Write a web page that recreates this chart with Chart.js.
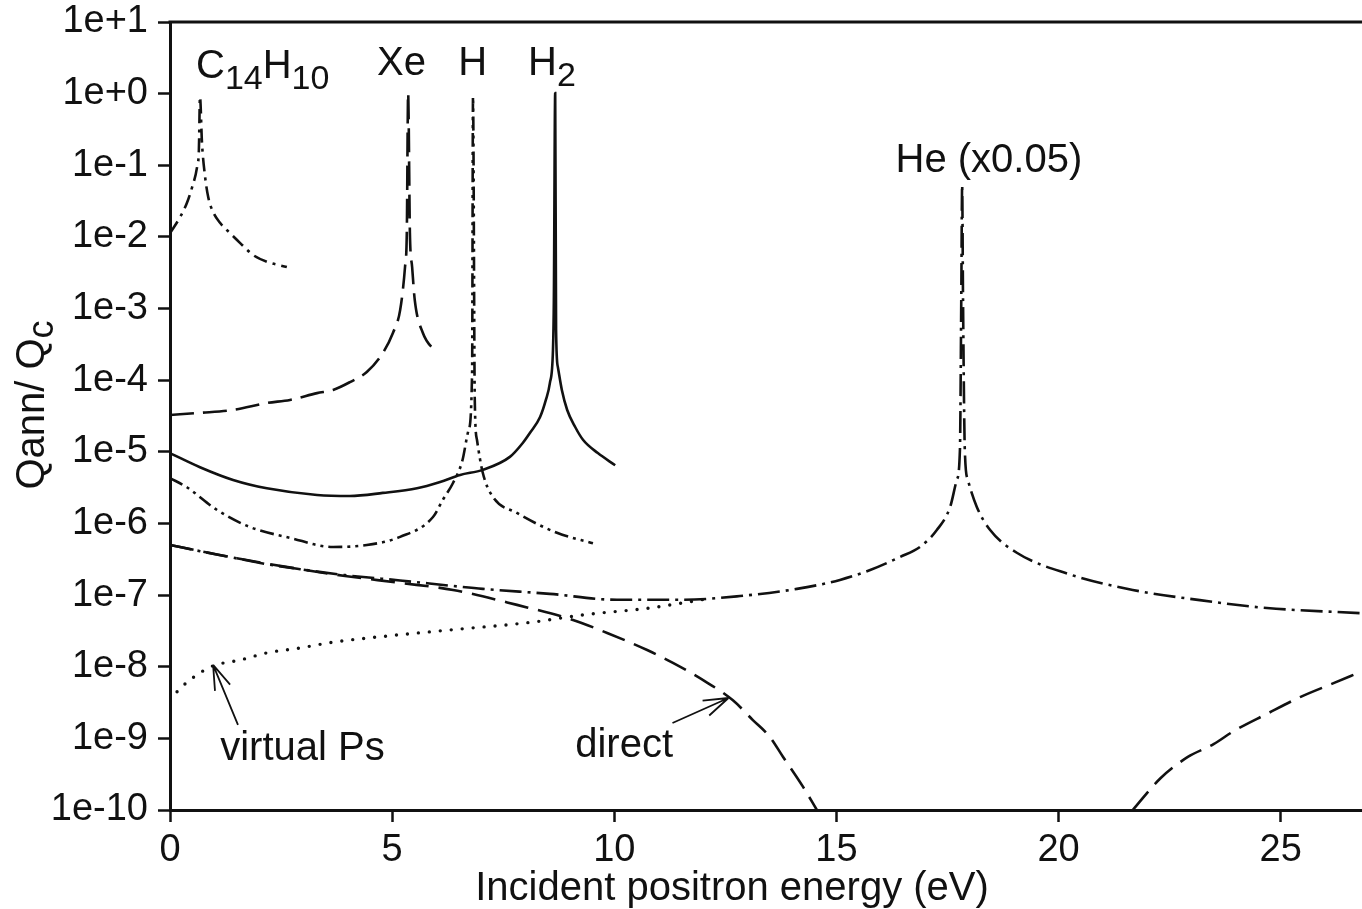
<!DOCTYPE html>
<html>
<head>
<meta charset="utf-8">
<title>Qann/Qc vs incident positron energy</title>
<script src="https://cdn.jsdelivr.net/npm/chart.js@4.4.1/dist/chart.umd.min.js"></script>
<style>
  html, body { margin: 0; padding: 0; background: #fff; }
  canvas { display: block; }
</style>
</head>
<body>
<canvas id="annChart" width="1362" height="909"></canvas>
<script>
// Annihilation / total cross-section ratio vs positron energy (eV)
const c14Energy = [0, 0.23, 0.38, 0.50, 0.61, 0.65, 0.675, 0.72, 0.79, 0.86, 0.97, 1.13, 1.35, 1.58, 1.87, 2.18, 2.63];
const c14Ratio = [1.13e-2, 1.9e-2, 2.97e-2, 4.98e-2, 9.5e-2, 0.163, 0.90, 0.205, 6.9e-2, 3.6e-2, 2.23e-2, 1.56e-2, 1.13e-2, 8.2e-3, 5.6e-3, 4.5e-3, 3.8e-3];

const xeEnergy = [0, 0.675, 1.42, 2.18, 2.70, 3.31, 3.67, 4.05, 4.43, 4.79, 5.02, 5.18, 5.29, 5.33, 5.36, 5.40, 5.45, 5.51, 5.69, 6.01];
const xeRatio = [3.27e-5, 3.5e-5, 3.84e-5, 4.8e-5, 5.3e-5, 6.6e-5, 7.3e-5, 9.4e-5, 1.3e-4, 2.4e-4, 4.6e-4, 9.5e-4, 3.8e-3, 1.13e-2, 1.02, 1.13e-2, 3.8e-3, 1.3e-3, 4.6e-4, 2.4e-4];

const hEnergy = [0, 0.38, 1.06, 1.80, 2.70, 3.67, 4.43, 5.18, 5.92, 6.14, 6.37, 6.58, 6.72, 6.80, 6.82, 6.86, 6.91, 7.04, 7.27, 7.81, 8.71, 9.52];
const hRatio = [4.3e-6, 3.2e-6, 1.54e-6, 8.9e-7, 6.3e-7, 4.7e-7, 5.0e-7, 6.5e-7, 1.23e-6, 2.13e-6, 3.67e-6, 7.5e-6, 2.0e-5, 1.3e-4, 0.9, 5.3e-5, 1.46e-5, 5.1e-6, 2.34e-6, 1.4e-6, 7.4e-7, 5.3e-7];

const h2Energy = [0, 0.675, 1.42, 2.18, 3.31, 4.05, 4.79, 5.56, 6.08, 6.53, 7.04, 7.65, 7.94, 8.10, 8.33, 8.46, 8.55, 8.62, 8.64, 8.67, 8.69, 8.73, 8.82, 8.94, 9.12, 9.30, 9.63, 10.02];
const h2Ratio = [9.6e-6, 6.1e-6, 4.05e-6, 3.1e-6, 2.5e-6, 2.42e-6, 2.67e-6, 3.1e-6, 3.8e-6, 4.75e-6, 5.6e-6, 8.5e-6, 1.33e-5, 1.83e-5, 3.06e-5, 5.3e-5, 9.1e-5, 2.64e-4, 1.3e-3, 1.02, 5.0e-4, 1.53e-4, 7.3e-5, 3.84e-5, 2.22e-5, 1.46e-5, 9.6e-6, 6.5e-6];

const heEnergy = [0, 0.68, 1.35, 2.03, 2.93, 3.94, 5.18, 6.37, 7.04, 8.55, 10.06, 11.55, 12.83, 14.11, 15.08, 15.76, 16.43, 16.88, 17.26, 17.56, 17.71, 17.78, 17.81, 17.83, 17.85, 17.89, 17.96, 18.16, 18.46, 19.06, 20.19, 21.67, 23.18, 24.69, 26.78];
const heRatio = [5.0e-7, 4.1e-7, 3.4e-7, 2.8e-7, 2.3e-7, 1.9e-7, 1.6e-7, 1.34e-7, 1.22e-7, 1.04e-7, 8.6e-8, 8.6e-8, 9.7e-8, 1.22e-7, 1.63e-7, 2.24e-7, 3.4e-7, 4.7e-7, 8.1e-7, 1.7e-6, 4.05e-6, 1.06e-5, 1.3e-3, 0.053, 1.3e-3, 1.06e-5, 4.05e-6, 1.7e-6, 8.1e-7, 3.9e-7, 2.0e-7, 1.18e-7, 8.5e-8, 6.6e-8, 5.6e-8];

// direct annihilation falls below the axis between ~14.6 and ~21.7 eV (null = gap)
const directEnergy = [0, 1.35, 2.93, 3.94, 5.18, 6.37, 7.81, 9.07, 9.84, 10.74, 11.32, 12.0, 12.67, 13.12, 13.5, 13.8, 14.25, 14.56, 18.0, 21.67, 22.30, 22.91, 23.49, 23.94, 24.69, 25.45, 26.19, 26.78];
const directRatio = [5.0e-7, 3.4e-7, 2.3e-7, 1.85e-7, 1.48e-7, 1.18e-7, 7.3e-8, 4.5e-8, 2.96e-8, 1.71e-8, 1.13e-8, 6.5e-9, 3.4e-9, 1.8e-9, 1.05e-9, 5.5e-10, 2.1e-10, 1e-10, null, 1e-10, 2.8e-10, 5.5e-10, 8.3e-10, 1.26e-9, 2.2e-9, 3.8e-9, 5.9e-9, 8.4e-9];

const psEnergy = [0, 0.23, 0.675, 0.97, 1.58, 2.18, 2.93, 3.67, 5.18, 6.30, 8.17, 9.30, 10.80, 11.55, 12.15];
const psRatio = [3.4e-9, 5.0e-9, 8.2e-9, 1.03e-8, 1.24e-8, 1.56e-8, 1.83e-8, 2.2e-8, 2.8e-8, 3.26e-8, 4.2e-8, 5.3e-8, 6.6e-8, 7.8e-8, 9.0e-8];

const xTickValues = [0, 5, 10, 15, 20, 25];
const yTickValues = [1e-10, 1e-9, 1e-8, 1e-7, 1e-6, 1e-5, 1e-4, 1e-3, 1e-2, 1e-1, 1e0, 1e1];
const yTickLabels = ['1e-10', '1e-9', '1e-8', '1e-7', '1e-6', '1e-5', '1e-4', '1e-3', '1e-2', '1e-1', '1e+0', '1e+1'];

// curve labels: [text, font size, baseline shift] pieces, anchored in data units
const curveLabels = [
  { parts: [['C', 40, 0], ['14', 34, 11], ['H', 40, 0], ['10', 34, 11]], x: 0.585, y: 1.65 },
  { parts: [['Xe', 40, 0]], x: 4.66, y: 1.82 },
  { parts: [['H', 40, 0]], x: 6.49, y: 1.82 },
  { parts: [['H', 40, 0], ['2', 34, 11]], x: 8.06, y: 1.82 },
  { parts: [['He (x0.05)', 40, 0]], x: 16.33, y: 0.0805 },
  { parts: [['virtual Ps', 40, 0]], x: 1.13, y: 5.0e-10 },
  { parts: [['direct', 40, 0]], x: 9.12, y: 5.5e-10 }
];
const arrows = [
  { from: [1.53, 1.54e-9], to: [0.97, 1.06e-8] },
  { from: [11.31, 1.64e-9], to: [12.57, 3.66e-9] }
];

const FONT = '"Liberation Sans", Arial, Helvetica, sans-serif';

function points(xs, ys) {
  return xs.map((x, i) => ({ x: x, y: ys[i] }));
}

function curve(label, xs, ys, dash, cap) {
  return {
    label: label,
    data: points(xs, ys),
    borderColor: '#111',
    borderWidth: cap === 'round' ? 3.4 : 2.6,
    borderDash: dash,
    borderCapStyle: cap || 'butt',
    pointRadius: 0,
    fill: false,
    cubicInterpolationMode: 'monotone',
    spanGaps: false
  };
}

function drawParts(ctx, x, y, parts, align) {
  let total = 0;
  parts.forEach(p => { ctx.font = p[1] + 'px ' + FONT; total += ctx.measureText(p[0]).width; });
  let cx = align === 'center' ? x - total / 2 : x;
  parts.forEach(p => {
    ctx.font = p[1] + 'px ' + FONT;
    ctx.fillText(p[0], cx, y + p[2]);
    cx += ctx.measureText(p[0]).width;
  });
}

const annotations = {
  id: 'annotations',
  afterDraw(chart) {
    const ctx = chart.ctx;
    const area = chart.chartArea;
    const xs = chart.scales.x;
    const ys = chart.scales.y;
    ctx.save();

    // frame top edge
    ctx.strokeStyle = '#111';
    ctx.lineWidth = 3;
    ctx.beginPath();
    ctx.moveTo(area.left - 1.5, area.top);
    ctx.lineTo(area.right, area.top);
    ctx.stroke();

    ctx.fillStyle = '#111';
    ctx.textBaseline = 'alphabetic';
    ctx.textAlign = 'left';
    curveLabels.forEach(l => {
      drawParts(ctx, xs.getPixelForValue(l.x), ys.getPixelForValue(l.y), l.parts, 'left');
    });

    // arrows pointing at the virtual Ps and direct curves
    ctx.lineWidth = 1.8;
    arrows.forEach(a => {
      const x0 = xs.getPixelForValue(a.from[0]);
      const y0 = ys.getPixelForValue(a.from[1]);
      const x1 = xs.getPixelForValue(a.to[0]);
      const y1 = ys.getPixelForValue(a.to[1]);
      const ang = Math.atan2(y1 - y0, x1 - x0);
      ctx.beginPath();
      ctx.moveTo(x0, y0);
      ctx.lineTo(x1, y1);
      [-0.32, 0.32].forEach(d => {
        ctx.moveTo(x1, y1);
        ctx.lineTo(x1 - 26 * Math.cos(ang + d), y1 - 26 * Math.sin(ang + d));
      });
      ctx.stroke();
    });

    // axis titles
    drawParts(ctx, 732, 900, [['Incident positron energy (eV)', 40, 0]], 'center');
    ctx.translate(44, 405);
    ctx.rotate(-Math.PI / 2);
    drawParts(ctx, 0, 0, [['Qann/ Q', 40, 0], ['c', 36, 9]], 'center');
    ctx.restore();
  }
};

new Chart(document.getElementById('annChart'), {
  type: 'line',
  data: {
    datasets: [
      curve('C14H10', c14Energy, c14Ratio, [14, 6, 3, 6]),
      curve('Xe', xeEnergy, xeRatio, [24, 9]),
      curve('H', hEnergy, hRatio, [14, 5, 3, 5, 3, 5]),
      curve('H2', h2Energy, h2Ratio, []),
      curve('He', heEnergy, heRatio, [22, 6, 3, 6]),
      curve('direct', directEnergy, directRatio, [24, 10]),
      curve('virtual Ps', psEnergy, psRatio, [0, 11], 'round')
    ]
  },
  options: {
    responsive: false,
    animation: false,
    devicePixelRatio: 1,
    layout: { padding: { left: 0, right: 0, top: 22, bottom: 0 } },
    plugins: {
      legend: { display: false },
      tooltip: { enabled: false }
    },
    scales: {
      x: {
        type: 'linear',
        min: 0,
        max: 26.83,
        afterBuildTicks: scale => { scale.ticks = xTickValues.map(v => ({ value: v })); },
        afterFit: scale => {
          scale.height = 99;
          scale.paddingLeft = 0;
          scale.paddingRight = 0;
        },
        ticks: {
          color: '#111',
          padding: 6,
          maxRotation: 0,
          font: { family: FONT, size: 38 }
        },
        grid: { drawOnChartArea: false, drawTicks: true, tickLength: 12, tickColor: '#111', tickWidth: 2.5 },
        border: { display: true, color: '#111', width: 3 }
      },
      y: {
        type: 'logarithmic',
        min: 1e-10,
        max: 10,
        afterBuildTicks: scale => { scale.ticks = yTickValues.map(v => ({ value: v })); },
        afterFit: scale => {
          scale.width = 170;
          scale.paddingTop = 0;
          scale.paddingBottom = 0;
        },
        ticks: {
          color: '#111',
          padding: 10,
          font: { family: FONT, size: 38 },
          callback: (value, index) => yTickLabels[index]
        },
        grid: { drawOnChartArea: false, drawTicks: true, tickLength: 12, tickColor: '#111', tickWidth: 2.5 },
        border: { display: true, color: '#111', width: 3 }
      }
    }
  },
  plugins: [annotations]
});
</script>
</body>
</html>
